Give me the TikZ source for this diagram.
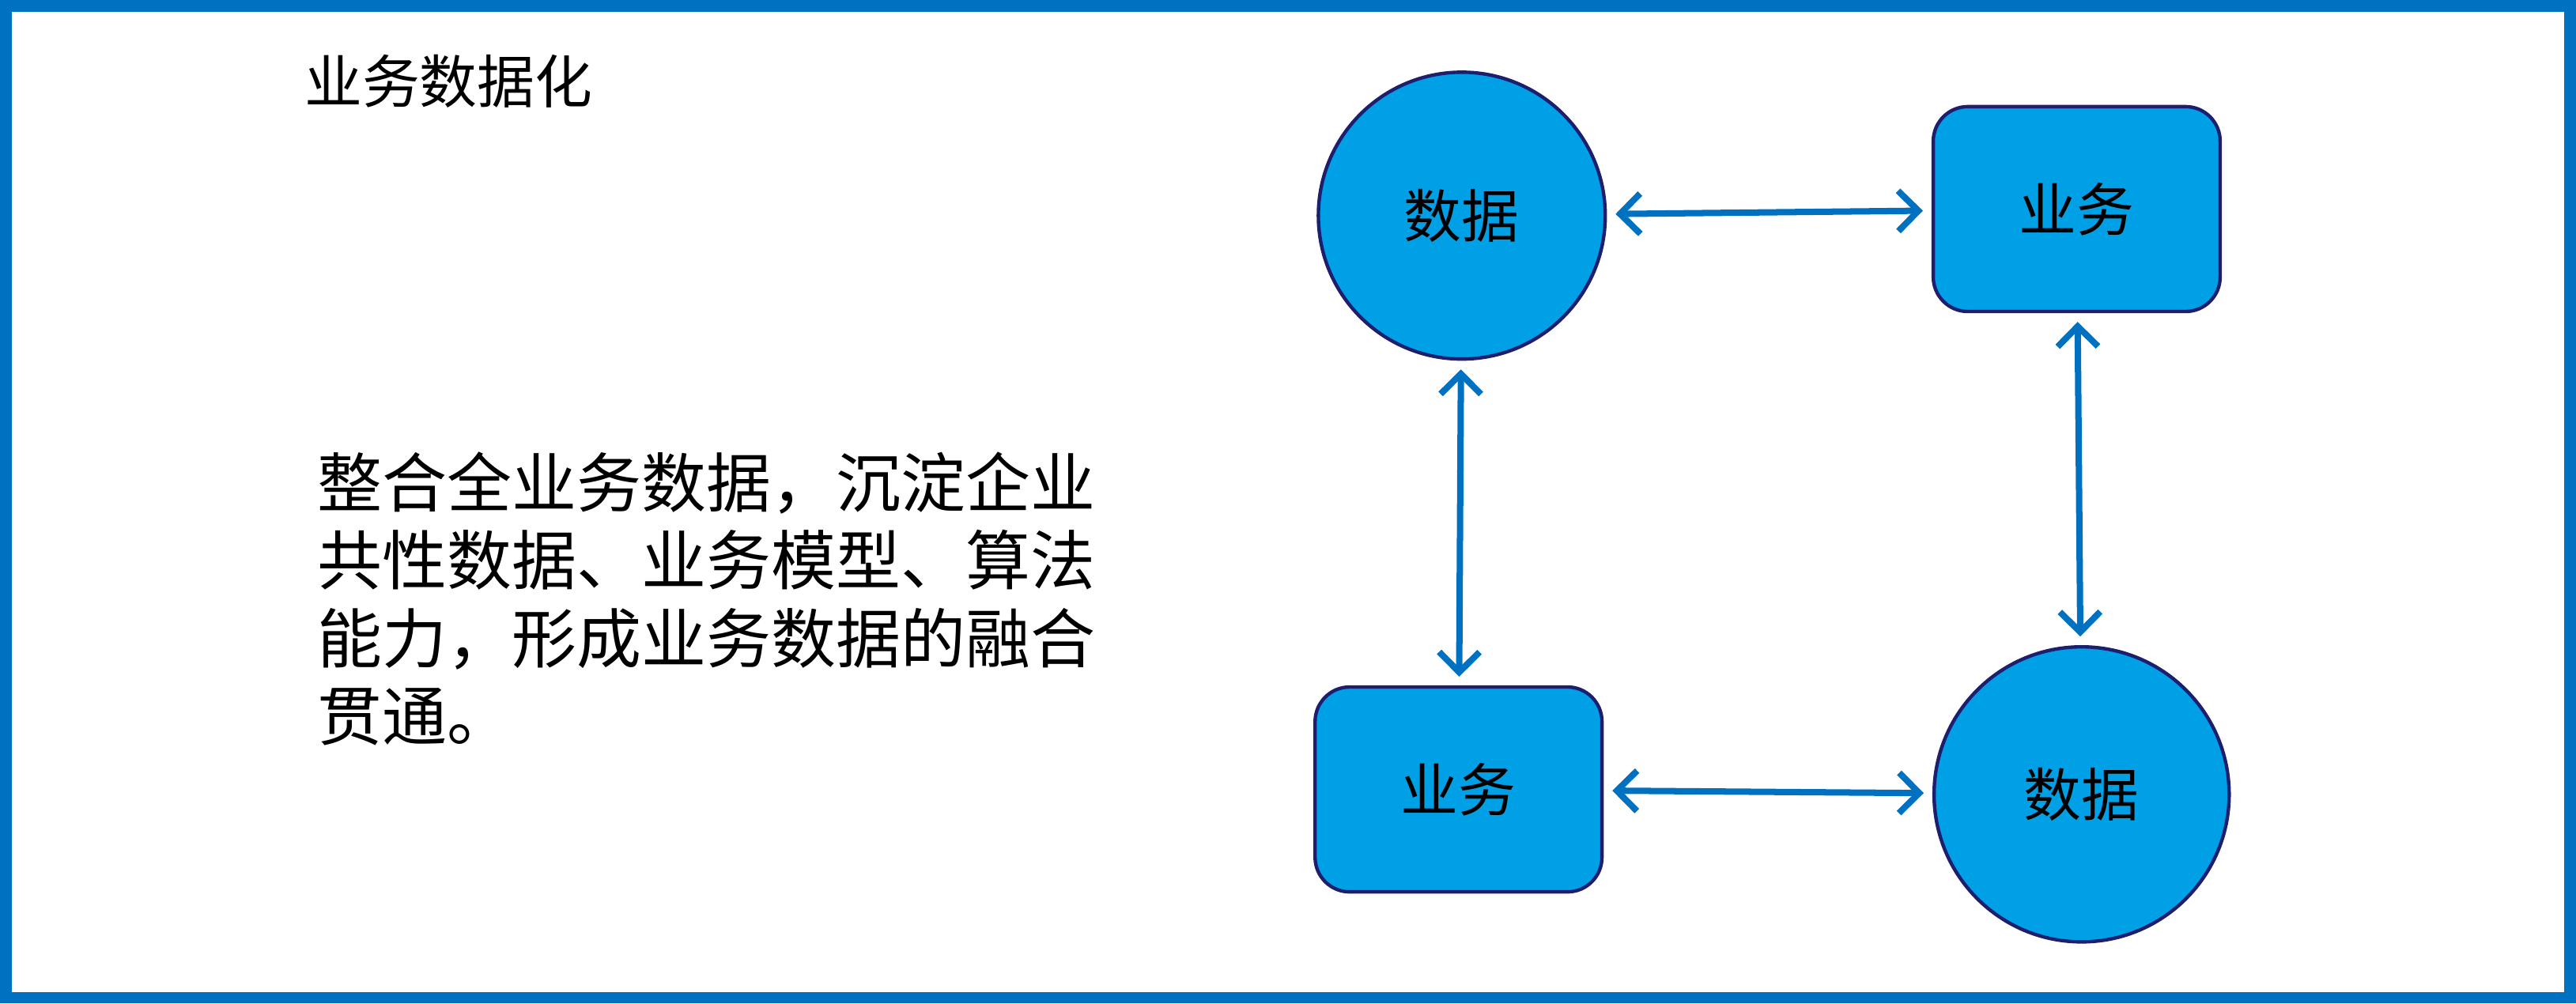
\documentclass[tikz,border=0pt]{standalone}
\usepackage{fontspec}
\setmainfont{Noto Sans CJK SC}
\usetikzlibrary{arrows.meta,positioning}
\definecolor{frame}{RGB}{0,112,192}
\definecolor{nodefill}{RGB}{0,160,230}
\definecolor{nodeline}{RGB}{30,30,110}

\begin{document}
\begin{tikzpicture}[x=0.02cm,y=-0.02cm,
    datanode/.style={circle, draw=nodeline, fill=nodefill, line width=1.2pt, font=\fontsize{20}{24}\selectfont},
    bizbox/.style={draw=nodeline, fill=nodefill, rounded corners=12pt, line width=1.2pt, minimum width=3.5cm, minimum height=2.5cm, font=\fontsize{20}{24}\selectfont},
    link/.style={{Straight Barb[length=7pt,width=14pt]}-{Straight Barb[length=7pt,width=14pt]}, draw=frame, line width=2.2pt, shorten <=3pt, shorten >=3pt}
]
    % Frame
    \draw[frame, line width=4pt] (2,2) rectangle (1566,607);
    \useasboundingbox (0,0) rectangle (1568,609);

    % Texts
    \node[anchor=west, font=\fontsize{20}{24}\selectfont] (title) at (178,48) {业务数据化};
    \node[anchor=north west, align=left, font=\fontsize{22.5}{27}\selectfont] (desc) at (186,268)
        {整合全业务数据，沉淀企业\\共性数据、业务模型、算法\\能力，形成业务数据的融合\\贯通。};

    % Nodes
    \node[datanode, minimum size=3.5cm] (data1) at (890,130) {数据};
    \node[bizbox] (biz1) at (1265,126) {业务};
    \node[bizbox] (biz2) at (888,480) {业务};
    \node[datanode, minimum size=3.6cm] (data2) at (1268,483) {数据};

    % Connections
    \draw[link] (data1) -- (biz1);
    \draw[link] (biz1) -- (data2);
    \draw[link] (data1) -- (biz2);
    \draw[link] (biz2) -- (data2);
\end{tikzpicture}
\end{document}
